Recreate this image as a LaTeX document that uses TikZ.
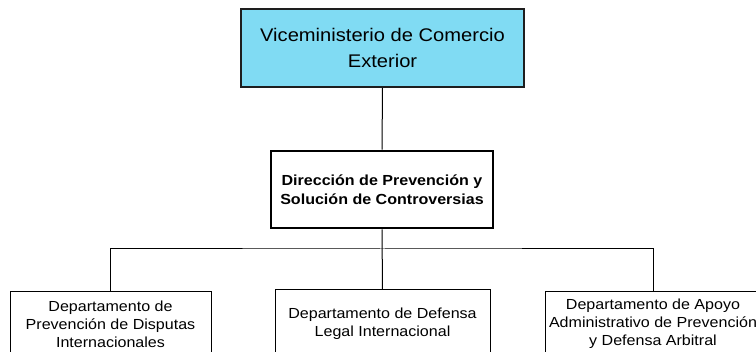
\documentclass[tikz,border=0pt]{standalone}
\usepackage{fontspec}
\setmainfont{Liberation Sans}[FakeStretch=1.1]
\definecolor{topfill}{RGB}{128,219,243}
\definecolor{edgegray}{RGB}{30,30,30}
\tikzset{
  topbox/.style={draw=edgegray, line width=1.8pt, fill=topfill, align=center, inner sep=0pt,
    font=\fontsize{18.3}{26}\selectfont},
  midbox/.style={draw=black, line width=2.6pt, fill=white, align=center, inner sep=0pt,
    font=\fontsize{14.6}{19}\bfseries\selectfont},
  deptbox/.style={draw=black, line width=1pt, fill=white, align=center, inner sep=0pt,
    font=\fontsize{14.6}{18}\selectfont},
  link/.style={draw=black, line width=1pt}
}
\begin{document}
\begin{tikzpicture}[x=1pt,y=-1pt]
\useasboundingbox (0,0) rectangle (756,352);
\clip (0,0) rectangle (756,352);
\node[topbox, minimum width=283pt, minimum height=78pt] (top) at (382.5,48)
  {Viceministerio de Comercio\\Exterior};
\node[midbox, minimum width=222pt, minimum height=77pt] (mid) at (382,189.5)
  {Dirección de Prevención y\\Solución de Controversias};
\node[deptbox, minimum width=201pt, minimum height=64pt] (d1) at (110.5,324)
  {Departamento de\\Prevención de Disputas\\Internacionales};
\node[deptbox, minimum width=215pt, minimum height=68pt] (d2) at (382.5,324)
  {Departamento de Defensa\\Legal Internacional};
\node[deptbox, minimum width=216pt, minimum height=64pt] (d3) at (653,324)
  {Departamento de Apoyo\\Administrativo de Prevención\\y Defensa Arbitral};
\coordinate (j) at (382.5,249);
\draw[link] (top.south) -- (mid.north);
\draw[link] (mid.south) -- (d2.north);
\draw[link] (d1.north) |- (j) -| (d3.north);
\end{tikzpicture}
\end{document}
